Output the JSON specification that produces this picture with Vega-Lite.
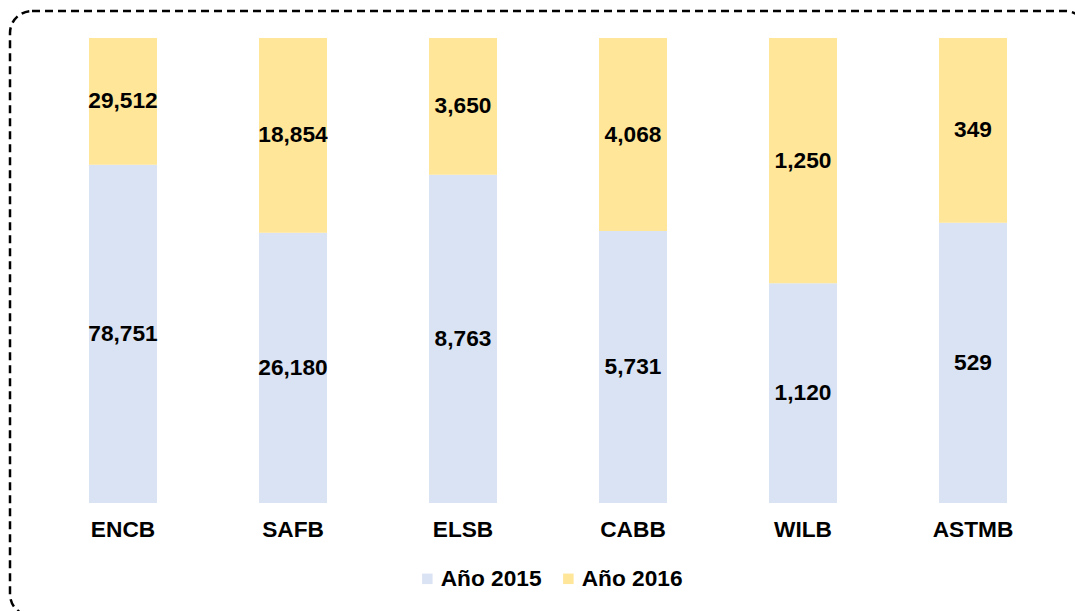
{
  "$schema": "https://vega.github.io/schema/vega-lite/v6.json",
  "autosize": {"type": "none"},
  "width": 1077,
  "height": 605,
  "padding": {"left": 10, "top": 11, "right": -12, "bottom": -5},
  "background": "white",
  "config": {
    "view": {"stroke": "#000000", "strokeWidth": 2.5, "strokeDash": [8, 5], "cornerRadius": 22},
    "font": "Liberation Sans"
  },
  "data": {
    "values": [
      {"cat": "ENCB", "serie": "Año 2015", "value": 78751},
      {"cat": "ENCB", "serie": "Año 2016", "value": 29512},
      {"cat": "SAFB", "serie": "Año 2015", "value": 26180},
      {"cat": "SAFB", "serie": "Año 2016", "value": 18854},
      {"cat": "ELSB", "serie": "Año 2015", "value": 8763},
      {"cat": "ELSB", "serie": "Año 2016", "value": 3650},
      {"cat": "CABB", "serie": "Año 2015", "value": 5731},
      {"cat": "CABB", "serie": "Año 2016", "value": 4068},
      {"cat": "WILB", "serie": "Año 2015", "value": 1120},
      {"cat": "WILB", "serie": "Año 2016", "value": 1250},
      {"cat": "ASTMB", "serie": "Año 2015", "value": 529},
      {"cat": "ASTMB", "serie": "Año 2016", "value": 349}
    ]
  },
  "transform": [
    {"stack": "value", "groupby": ["cat"], "sort": [{"field": "serie", "order": "ascending"}], "offset": "normalize", "as": ["v0", "v1"]},
    {"calculate": "(datum.v0 + datum.v1) / 2", "as": "mid"}
  ],
  "encoding": {
    "x": {
      "field": "cat",
      "type": "nominal",
      "sort": ["ENCB", "SAFB", "ELSB", "CABB", "WILB", "ASTMB"],
      "scale": {"range": [28, 1048], "paddingInner": 0.6, "paddingOuter": 0.3},
      "axis": {
        "title": null,
        "orient": "bottom",
        "offset": -113,
        "domain": false,
        "ticks": false,
        "grid": false,
        "labelAngle": 0,
        "labelPadding": 15,
        "labelFont": "Liberation Sans",
        "labelFontSize": 22.7,
        "labelFontWeight": "bold",
        "labelColor": "#000000"
      }
    }
  },
  "layer": [
    {
      "mark": {"type": "bar"},
      "encoding": {
        "y": {"field": "v1", "type": "quantitative", "scale": {"domain": [0, 1], "range": [492, 27]}, "axis": null},
        "y2": {"field": "v0"},
        "color": {
          "field": "serie",
          "type": "nominal",
          "scale": {"domain": ["Año 2015", "Año 2016"], "range": ["#DAE3F3", "#FFE699"]},
          "legend": {
            "title": null,
            "orient": "none",
            "legendX": 406,
            "legendY": 556,
            "direction": "horizontal",
            "padding": 0,
            "symbolType": "square",
            "symbolSize": 110,
            "symbolStrokeWidth": 0,
            "labelOffset": 2,
            "columnPadding": 15,
            "labelFont": "Liberation Sans",
            "labelFontSize": 22.7,
            "labelFontWeight": "bold",
            "labelColor": "#000000",
            "labelLimit": 300
          }
        }
      }
    },
    {
      "mark": {"type": "text", "font": "Liberation Sans", "fontSize": 22.7, "fontWeight": "bold", "color": "#000000", "baseline": "middle"},
      "encoding": {
        "y": {"field": "mid", "type": "quantitative", "scale": {"domain": [0, 1], "range": [492, 27]}, "axis": null},
        "text": {"field": "value", "type": "quantitative", "format": ",.0f"}
      }
    }
  ]
}
